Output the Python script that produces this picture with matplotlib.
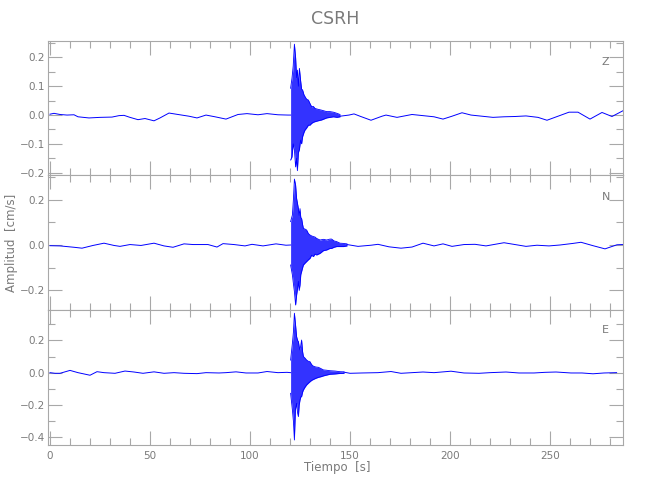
import numpy as np
import matplotlib
matplotlib.use("Agg")
import matplotlib.pyplot as plt
from matplotlib.ticker import MultipleLocator

plt.rcParams['font.family'] = ['DejaVu Sans']

# ---------------- data ----------------
title = "CSRH"
components = ["Z", "N", "E"]

# Z component
z_pre_t = [0, 2, 5, 8.5, 12, 14, 19.5, 25, 31, 34.5, 37, 40, 44, 47.5, 52, 55, 59.5, 64, 69.5,
           73.5, 78, 82.5, 88, 94, 98.5, 104, 108.5, 114, 119, 120.3]
z_pre_v = [0.003, 0.006, 0.002, 0.0, 0.001, -0.006, -0.010, -0.008, -0.007, -0.002, -0.001, -0.008,
           -0.016, -0.012, -0.020, -0.010, 0.007, 0.002, -0.004, -0.010, 0.000, -0.006, -0.014,
           0.002, 0.005, 0.001, 0.005, 0.001, 0.0, 0.0]
z_burst_t = [120.3, 121.0, 121.6, 122.2, 122.8, 123.3, 123.7, 124.2, 124.7, 125.3, 125.8, 126.3,
             127.0, 127.5, 128.3, 129.2, 130.0, 130.8, 131.7, 132.5, 134.0, 135.8, 138.3, 140.0,
             141.7, 143.5, 145.0]
z_burst_hi = [0.093, 0.128, 0.17, 0.246, 0.20, 0.13, 0.156, 0.10, 0.162, 0.12, 0.09, 0.087, 0.07,
              0.064, 0.055, 0.052, 0.04, 0.029, 0.03, 0.023, 0.02, 0.017, 0.012, 0.012, 0.01,
              0.006, 0.002]
z_burst_lo = [-0.156, -0.145, -0.10, -0.12, -0.18, -0.15, -0.193, -0.13, -0.12, -0.087, -0.10,
              -0.075, -0.06, -0.052, -0.045, -0.035, -0.035, -0.029, -0.025, -0.023, -0.02,
              -0.017, -0.010, -0.008, -0.006, -0.008, -0.006]
z_post_t = [145, 149.5, 152, 155, 160.5, 166, 168, 173.5, 181, 186.5, 192, 196.5, 201, 206, 210.5,
            216, 221.5, 227, 232.5, 238, 244, 248.5, 254, 259.5, 264, 270, 276, 281, 286.5]
z_post_v = [-0.004, 0.0, 0.004, -0.004, -0.018, -0.004, 0.000, -0.008, 0.002, -0.002, -0.006,
            -0.014, -0.004, 0.008, 0.000, -0.004, -0.008, -0.006, -0.005, -0.003, -0.008, -0.018,
            -0.004, 0.010, 0.010, -0.014, 0.009, -0.005, 0.015]

# N component
n_pre_t = [0, 5, 12, 16, 21.5, 27, 32, 35, 40, 45.5, 52, 57, 61.5, 67, 71.5, 79, 83.5, 86.5, 92,
           97.5, 101, 106.5, 113, 118, 120.3]
n_pre_v = [-0.003, -0.004, -0.010, -0.014, -0.002, 0.008, -0.002, -0.006, 0.002, -0.002, 0.008,
           -0.004, -0.010, 0.005, 0.002, 0.002, -0.009, 0.006, 0.002, -0.004, 0.003, -0.004,
           0.005, -0.001, 0.0]
n_burst_t = [120.3, 121.2, 121.7, 122.2, 122.8, 123.3, 123.8, 124.2, 124.6, 125.0, 125.4, 125.8,
             126.3, 126.7, 127.5, 128.3, 129.2, 130.0, 130.8, 131.7, 132.5, 133.3, 135.0, 136.7,
             138.3, 140.0, 140.8, 142.0, 143.3, 145.0, 146.7, 148.5]
n_burst_hi = [0.103, 0.132, 0.20, 0.29, 0.264, 0.205, 0.18, 0.16, 0.13, 0.16, 0.12, 0.117, 0.09,
              0.073, 0.07, 0.066, 0.05, 0.044, 0.04, 0.037, 0.035, 0.029, 0.022, 0.025, 0.022,
              0.026, 0.026, 0.018, 0.015, 0.008, 0.007, 0.005]
n_burst_lo = [-0.088, -0.132, -0.17, -0.205, -0.264, -0.22, -0.19, -0.16, -0.20, -0.176, -0.13,
              -0.117, -0.10, -0.088, -0.08, -0.073, -0.065, -0.059, -0.045, -0.051, -0.040,
              -0.044, -0.037, -0.025, -0.022, -0.015, -0.015, -0.010, -0.007, -0.007, -0.007,
              -0.004]
n_post_t = [148.5, 154, 160.5, 164, 169.5, 175.5, 181, 186.5, 192, 196.5, 201, 207, 212.5, 218,
            227, 232.5, 238, 243.5, 249.5, 255, 261.5, 265.5, 271.5, 277.5, 283.5, 286.5]
n_post_v = [0.002, -0.006, -0.001, 0.003, -0.008, -0.014, -0.009, 0.008, -0.004, 0.005, -0.006,
            0.002, 0.003, -0.004, 0.010, 0.002, -0.006, -0.001, -0.004, 0.000, 0.007, 0.012,
            -0.003, -0.017, 0.001, 0.002]

# E component
e_pre_t = [0, 2.5, 5, 10, 14, 20, 23.5, 27, 32.5, 37.5, 42, 46.5, 52, 57, 62, 67, 73.5, 78, 84.5,
           88, 93, 98, 104, 108.5, 114, 118.5, 120.3]
e_pre_v = [0.0, -0.004, -0.004, 0.014, 0.0, -0.016, 0.006, 0.0, -0.004, 0.010, 0.004, -0.004,
           0.005, -0.004, 0.000, -0.004, -0.006, 0.000, -0.002, 0.000, 0.005, -0.002, -0.002,
           0.007, 0.000, 0.002, 0.0]
e_burst_t = [120.3, 121.2, 121.7, 122.2, 122.7, 123.3, 123.8, 124.2, 124.6, 125.0, 125.4, 125.8,
             126.3, 126.7, 127.5, 128.3, 129.2, 130.0, 130.8, 131.7, 132.9, 134.2, 135.5, 136.7,
             138.3, 140.0, 142.5, 145.0, 147.0]
e_burst_hi = [0.078, 0.182, 0.25, 0.368, 0.306, 0.223, 0.20, 0.192, 0.16, 0.14, 0.17, 0.202, 0.13,
              0.10, 0.09, 0.078, 0.07, 0.068, 0.05, 0.04, 0.035, 0.033, 0.025, 0.017, 0.015,
              0.012, 0.01, 0.006, 0.005]
e_burst_lo = [-0.128, -0.231, -0.30, -0.417, -0.231, -0.19, -0.25, -0.272, -0.20, -0.169, -0.15,
              -0.148, -0.12, -0.107, -0.09, -0.076, -0.065, -0.056, -0.048, -0.042, -0.035,
              -0.029, -0.025, -0.02, -0.015, -0.01, -0.008, -0.005, -0.004]
e_post_t = [147, 150, 156, 164, 170.5, 175.5, 181, 186.5, 192, 200.5, 207, 214.5, 220, 228, 234.5,
            242, 247.5, 253, 260.5, 266, 271.5, 277, 283.3]
e_post_v = [0.003, -0.004, -0.002, 0.0, 0.007, -0.004, 0.000, 0.004, 0.000, 0.009, -0.002, -0.004,
            0.000, 0.004, -0.002, -0.002, 0.002, 0.004, -0.002, -0.002, -0.007, -0.002, 0.000]

x_ticks = [0, 50, 100, 150, 200, 250]
y_ticks = [[-0.2, -0.1, 0.0, 0.1, 0.2], [-0.2, 0.0, 0.2], [-0.4, -0.2, 0.0, 0.2]]

# ---------------- style ----------------
TXT = '#7a7a7a'
SPN = '#a8a8a8'
BLUE = '#0000ff'
xlim = (-1.15, 286.5)
ylims = [(-0.208, 0.257), (-0.286, 0.308), (-0.448, 0.388)]
yminor = [0.05, 0.1, 0.1]

traces = [
    (z_pre_t, z_pre_v, z_burst_t, z_burst_hi, z_burst_lo, z_post_t, z_post_v),
    (n_pre_t, n_pre_v, n_burst_t, n_burst_hi, n_burst_lo, n_post_t, n_post_v),
    (e_pre_t, e_pre_v, e_burst_t, e_burst_hi, e_burst_lo, e_post_t, e_post_v),
]

fig = plt.figure(figsize=(6.5, 5.0), dpi=100)
left, right = 47.7 / 650, 623 / 650
tops = [41, 175, 310]
bots = [175, 310, 445]

for i, (pt, pv, bt, bh, bl, qt, qv) in enumerate(traces):
    ax = fig.add_axes([left, 1 - bots[i] / 500, right - left, (bots[i] - tops[i]) / 500])
    ax.plot(pt, pv, color=BLUE, lw=0.7)
    ax.plot(qt, qv, color=BLUE, lw=0.7)
    ax.fill_between(bt, bl, bh, color=BLUE, alpha=0.8, lw=0)
    ax.plot(bt, bh, color=BLUE, lw=0.6)
    ax.plot(bt, bl, color=BLUE, lw=0.6)

    ax.set_xlim(*xlim)
    ax.set_ylim(*ylims[i])
    ax.set_xticks(x_ticks)
    ax.xaxis.set_minor_locator(MultipleLocator(10))
    ax.set_yticks(y_ticks[i])
    ax.yaxis.set_minor_locator(MultipleLocator(yminor[i]))
    ax.set_yticklabels([f"{v:.1f}".replace('-', '\u2212') for v in y_ticks[i]])
    ax.tick_params(which='both', direction='in', top=True, right=True, colors=SPN,
                   labelcolor=TXT, labelsize=7.5, width=0.8)
    ax.tick_params(which='major', length=10, pad=2)
    ax.tick_params(which='minor', length=5)
    for s in ax.spines.values():
        s.set_color(SPN)
        s.set_linewidth(0.8)
    if i < 2:
        ax.tick_params(labelbottom=False)
    else:
        ax.tick_params(axis='x', pad=4)
    ax.text(0.970, [0.843, 0.837, 0.85][i], components[i], transform=ax.transAxes,
            ha='center', va='center', color=TXT, fontsize=8)

fig.text(0.515, 0.962, title, ha='center', va='center', color=TXT, fontsize=12.5)
fig.text(0.519, 0.064, "Tiempo  [s]", ha='center', va='center', color=TXT, fontsize=8.5)
fig.text(0.017, 0.514, "Amplitud  [cm/s]", ha='center', va='center', rotation=90,
         color=TXT, fontsize=8.5)

fig.savefig("out.png", dpi=100)
